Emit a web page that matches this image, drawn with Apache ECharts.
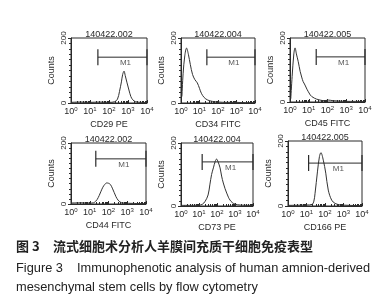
<!DOCTYPE html>
<html>
<head>
<meta charset="utf-8">
<script src="https://cdn.jsdelivr.net/npm/echarts@6/dist/echarts.min.js"></script>
<style>
  html, body { margin: 0; padding: 0; background: #fff; }
  #chart { width: 391px; height: 300px; }
</style>
</head>
<body>
<div id="chart"></div>
<script>
// sample file names and markers, one per panel
const sampleIds = ['140422.002', '140422.004', '140422.005', '140422.002', '140422.004', '140422.005']
const markers = ['CD29 PE', 'CD34 FITC', 'CD45 FITC', 'CD44 FITC', 'CD73 PE', 'CD166 PE']

// M1 gate: start channel (ends at 10^4) and drawn count level
const gateStart = [26, 25, 25, 21, 15, 13]
const gateLevel = [141, 141, 141, 148, 140, 132]

// histograms (channel, counts)
const cd29X = [1, 3.2, 10, 32, 100, 200, 280, 355, 450, 525, 620, 710, 890, 1120, 1410, 1780, 2500, 5000, 10000]
const cd29Y = [2, 3, 2, 3, 2, 4, 12, 35, 65, 88, 98, 85, 62, 40, 20, 10, 4, 2, 1]

const cd34X = [1.12, 1.3, 1.6, 2.0, 2.5, 3.2, 4.2, 5.6, 7.6, 10, 12.6, 17.8, 28, 50, 100, 316, 1000, 3160, 10000]
const cd34Y = [20, 90, 145, 169, 150, 118, 88, 72, 62, 45, 30, 17, 9, 5, 3, 2, 2, 1, 1]

const cd45X = [1.1, 1.3, 1.6, 1.86, 2.2, 2.75, 3.5, 4.2, 5, 6.3, 8, 9.5, 12, 14.5, 20, 26, 40, 70, 110, 200, 400, 1000, 3000, 10000]
const cd45Y = [10, 80, 150, 169, 150, 126, 95, 78, 64, 53, 40, 32, 22, 17, 12, 9, 6, 4, 6, 4, 3, 2, 2, 1]

const cd44X = [1, 3, 10, 16, 20, 25, 32, 40, 50, 63, 80, 100, 126, 160, 200, 250, 320, 400, 500, 700, 2000, 10000]
const cd44Y = [3, 4, 3, 4, 8, 15, 28, 42, 55, 64, 69, 68, 64, 52, 38, 24, 13, 7, 4, 3, 2, 1]

const cd73X = [1, 5, 10, 15, 22, 32, 40, 50, 63, 80, 95, 115, 148, 180, 224, 280, 346, 430, 525, 700, 1000, 2000, 10000]
const cd73Y = [2, 2, 3, 5, 15, 35, 67, 100, 121, 142, 149, 140, 121, 95, 73, 55, 41, 28, 19, 11, 6, 3, 2]

const cd166X = [1, 10, 20, 25, 29, 39, 50, 60, 81, 110, 150, 230, 350, 600, 2000, 10000]
const cd166Y = [2, 3, 5, 15, 39, 105, 152, 164, 141, 101, 49, 18, 8, 4, 2, 1]

const histX = [cd29X, cd34X, cd45X, cd44X, cd73X, cd166X]
const histY = [cd29Y, cd34Y, cd45Y, cd44Y, cd73Y, cd166Y]

// plot boxes in px: left, top, width, height
const boxes = [
  [71, 38, 76, 65], [181, 38, 74, 65], [290, 38, 75, 64],
  [71, 143, 75, 61], [181, 143, 72, 63], [288, 141, 74, 65]
]

const font = '"Liberation Sans", Arial, sans-serif'
const ink = '#2a2a2a'

const chart = echarts.init(document.getElementById('chart'), null, { renderer: 'canvas' })

const grids = [], xAxes = [], yAxes = [], titles = [], series = []

boxes.forEach((b, i) => {
  grids.push({ left: b[0], top: b[1], width: b[2], height: b[3], show: true, borderColor: ink, borderWidth: 1, backgroundColor: 'transparent' })

  titles.push({
    text: sampleIds[i],
    left: b[0] + b[2] / 2 - 5,
    top: b[1] - 13,
    textAlign: 'center',
    textStyle: { fontFamily: font, fontSize: 9, fontWeight: 'normal', color: ink }
  })

  xAxes.push({
    gridIndex: i,
    type: 'log',
    logBase: 10,
    min: 1,
    max: 10000,
    name: markers[i],
    nameLocation: 'middle',
    nameGap: 17,
    nameTextStyle: { fontFamily: font, fontSize: 9, color: ink },
    axisLine: { lineStyle: { color: ink, width: 1 } },
    axisTick: { show: true, length: 3, inside: true, lineStyle: { color: ink } },
    minorTick: { show: true, splitNumber: 8, length: 2, lineStyle: { color: ink } },
    splitLine: { show: false },
    axisLabel: {
      margin: 3,
      color: ink,
      fontFamily: font,
      formatter: v => '{b|10}{s|' + Math.round(Math.log10(v)) + '}',
      rich: {
        b: { fontSize: 9, fontFamily: font, color: ink },
        s: { fontSize: 6, fontFamily: font, color: ink, verticalAlign: 'top', padding: [0, 0, 5, 0] }
      }
    }
  })

  yAxes.push({
    gridIndex: i,
    type: 'value',
    min: 0,
    max: 200,
    interval: 200,
    name: 'Counts',
    nameLocation: 'middle',
    nameGap: 15,
    nameTextStyle: { fontFamily: font, fontSize: 9, color: ink },
    axisLine: { show: true, lineStyle: { color: ink, width: 1 } },
    axisTick: { show: true, length: 3, lineStyle: { color: ink } },
    minorTick: { show: true, splitNumber: 12, length: 2, lineStyle: { color: ink } },
    splitLine: { show: false },
    axisLabel: { rotate: 90, margin: 3, fontFamily: font, fontSize: 8, color: ink }
  })

  series.push({
    type: 'line',
    xAxisIndex: i,
    yAxisIndex: i,
    data: histX[i].map((x, k) => [x, histY[i][k]]),
    smooth: 0.35,
    showSymbol: false,
    silent: true,
    lineStyle: { color: '#333', width: 1 },
    z: 3
  })

  // M1 gate bar with end caps
  series.push({
    type: 'line',
    xAxisIndex: i,
    yAxisIndex: i,
    data: [[gateStart[i], gateLevel[i]], [10000, gateLevel[i]]],
    symbol: 'rect',
    symbolSize: [1.2, 16],
    showSymbol: true,
    silent: true,
    itemStyle: { color: ink },
    lineStyle: { color: ink, width: 1 },
    clip: false,
    z: 4
  })

  series.push({
    type: 'scatter',
    xAxisIndex: i,
    yAxisIndex: i,
    data: [[Math.sqrt(gateStart[i] * 10000), gateLevel[i]]],
    symbolSize: 0,
    silent: true,
    label: { show: true, formatter: 'M1', position: 'bottom', distance: 2, offset: [3, 0], fontFamily: font, fontSize: 8, color: ink }
  })
})

const capFont = '"Noto Sans CJK SC", sans-serif'
const capColor = '#222'

chart.setOption({
  animation: false,
  backgroundColor: '#fff',
  title: titles,
  grid: grids,
  xAxis: xAxes,
  yAxis: yAxes,
  series: series,
  graphic: [
    { type: 'text', left: 16, top: 240, style: { text: '图 3', font: 'bold 13px ' + capFont, fill: capColor } },
    { type: 'text', left: 53, top: 240, style: { text: '流式细胞术分析人羊膜间充质干细胞免疫表型', font: 'bold 13px ' + capFont, fill: capColor } },
    { type: 'text', left: 16, top: 262, style: { text: 'Figure 3', font: '12.8px ' + font, fill: capColor } },
    { type: 'text', left: 77, top: 262, style: { text: 'Immunophenotic analysis of human amnion-derived', font: '12.8px ' + font, fill: capColor } },
    { type: 'text', left: 16, top: 281, style: { text: 'mesenchymal stem cells by flow cytometry', font: '12.8px ' + font, fill: capColor } }
  ]
})
</script>
</body>
</html>
